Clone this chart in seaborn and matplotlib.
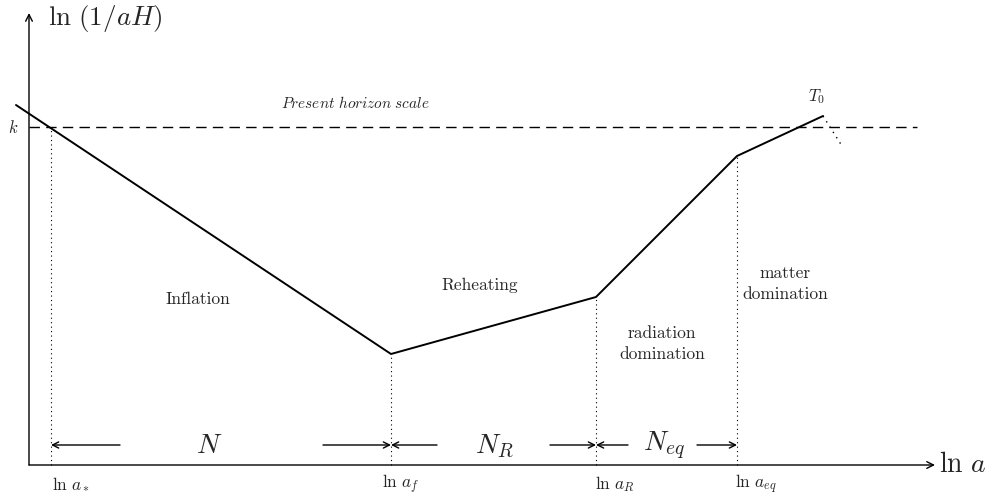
import numpy as np
import pandas as pd
import matplotlib.pyplot as plt
import seaborn as sns

# schematic history of the comoving Hubble radius (arbitrary units)
ln_a = [-13, 362, 567, 708, 794]          # start, a_f, a_R, a_eq, today
ln_inv_aH = [360, 111, 168, 309, 349]
future_ln_a = [794, 813]
future_ln_inv_aH = [349, 319]

k_level = 338
k_line_end = 888
ln_a_star = 22

# epoch markers on the ln a axis
marker_x = [ln_a_star, 362, 567, 708]
marker_top = [k_level, 111, 168, 309]
tick_labels = [r'$\ln\,a_*$', r'$\ln\,a_f$', r'$\ln\,a_R$', r'$\ln\,a_{eq}$']
tick_label_x = [23, 353, 566, 706]

# e-fold intervals: (left end, right end, label, label x, left arrow tail, right arrow tail)
intervals = [
    (22, 362, r'$N$', 180, 91, 294),
    (362, 567, r'$N_R$', 465, 408, 521),
    (567, 708, r'$N_{eq}$', 635, 599, 668),
]

# region annotations
region_text = ['Inflation', 'Reheating', 'radiation\ndomination', 'matter\ndomination']
region_x = [169, 451, 633, 756]
region_y = [166, 180, 121, 181]

df = pd.DataFrame({'ln_a': ln_a, 'ln_inv_aH': ln_inv_aH})

sns.set_style('white')
plt.rcParams['font.family'] = ['cmr10', 'DejaVu Serif']
plt.rcParams['mathtext.fontset'] = 'cm'
plt.rcParams['axes.unicode_minus'] = False

fig = plt.figure(figsize=(9.92, 5.01), dpi=100)
ax = fig.add_axes([0, 0, 1, 1])
ax.set_xlim(-29, 963)
ax.set_ylim(-36, 465)
ax.axis('off')

# axes with arrow heads
arrow = dict(arrowstyle='->', lw=1.0, color='black', shrinkA=0, shrinkB=0, mutation_scale=12)
ax.annotate('', xy=(906, 0), xytext=(0, 0), arrowprops=arrow)
ax.annotate('', xy=(0, 452), xytext=(0, 0), arrowprops=arrow)
ax.text(910, 0, r'$\ln\,a$', fontsize=20, ha='left', va='center')
ax.text(19, 447, r'$\ln\,(1/aH)$', fontsize=19.5, ha='left', va='center')

# present horizon scale
ax.plot([0, k_line_end], [k_level, k_level], color='black', lw=1.0, ls=(0, (7.5, 4.5)))
ax.text(-16, k_level, r'$k$', fontsize=12, ha='center', va='center')
ax.text(326, 362, r'$\mathit{Present\ horizon\ scale}$', fontsize=11, ha='center', va='center')

# main curve
sns.lineplot(data=df, x='ln_a', y='ln_inv_aH', sort=False, color='black', lw=1.4, ax=ax)
ax.plot(future_ln_a, future_ln_inv_aH, color='black', lw=1.0, ls=(0, (1, 3.5)))
ax.text(788, 368, r'$T_0$', fontsize=12, ha='center', va='center')

# dotted markers and tick labels
for x, top, lab, lx in zip(marker_x, marker_top, tick_labels, tick_label_x):
    ax.plot([x, x], [0, top], color='black', lw=0.8, ls=(0, (1, 3)))
    ax.text(lx, -19, lab, fontsize=12.5, ha='left', va='center')

# interval arrows
small = dict(arrowstyle='->', lw=1.0, color='black', shrinkA=0, shrinkB=0, mutation_scale=11)
for left, right, lab, lx, ltail, rtail in intervals:
    ax.annotate('', xy=(left, 20), xytext=(ltail, 20), arrowprops=small)
    ax.annotate('', xy=(right, 20), xytext=(rtail, 20), arrowprops=small)
    ax.text(lx, 19, lab, fontsize=20, ha='center', va='center')

for t, x, y in zip(region_text, region_x, region_y):
    ax.text(x, y, t, fontsize=12.5, ha='center', va='center', linespacing=1.45)

ax.set_xlabel('')
ax.set_ylabel('')

fig.savefig('out.png', dpi=100, facecolor='white')
